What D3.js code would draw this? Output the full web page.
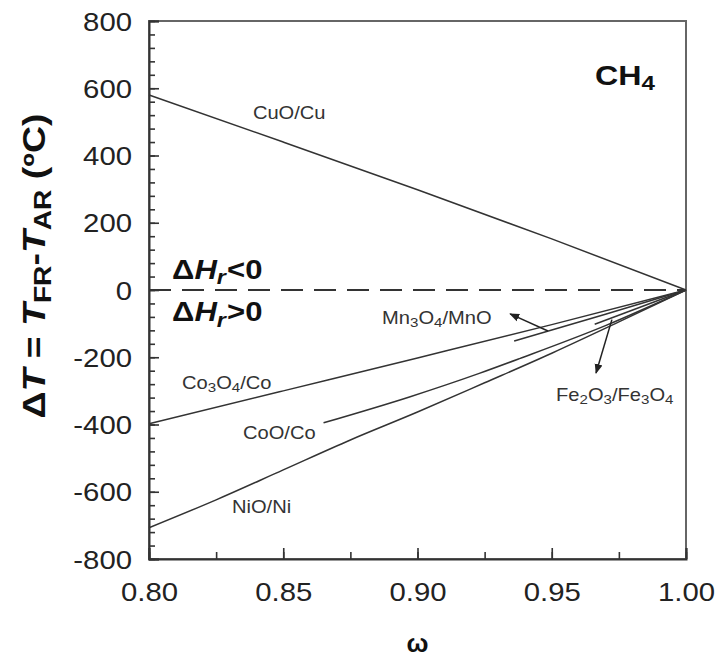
<!DOCTYPE html>
<html>
<head>
<meta charset="utf-8">
<script src="https://cdn.jsdelivr.net/npm/d3@7"></script>
<style>
  body { margin: 0; background: #fff; }
  svg { display: block; font-family: "Liberation Sans", Arial, sans-serif; }
</style>
</head>
<body>
<svg id="chart" width="719" height="658"></svg>
<script>
// x domain (omega) and y domain (delta T)
const xTicks = [0.80, 0.85, 0.90, 0.95, 1.00];
const yTicks = [-800, -600, -400, -200, 0, 200, 400, 600, 800];

// curves
const cuoW   = [0.80, 0.85, 0.90, 0.95, 1.00];
const cuoT   = [580, 440, 298, 152, 0];
const co3o4W = [0.80, 0.85, 0.90, 0.95, 1.00];
const co3o4T = [-398, -300, -202, -103, 0];
const mnW    = [0.936, 0.97, 1.00];
const mnT    = [-152, -72, 0];
const feW    = [0.966, 1.00];
const feT    = [-102, 0];
const cooW   = [0.865, 0.897, 0.923, 0.938, 0.97, 1.00];
const cooT   = [-395, -318, -248, -204, -106, 0];
const nioW   = [0.80, 0.825, 0.85, 0.875, 0.90, 0.925, 0.95, 0.975, 1.00];
const nioT   = [-707, -624, -535, -446, -363, -276, -188, -95, 0];

// label text pieces: [text, sub?]
const labels = [
    {w: 0.8387, t: 508,  parts: [["CuO/Cu"]]},
    {w: 0.8868, t: -101, parts: [["Mn"], ["3", 1], ["O"], ["4", 1], ["/MnO"]]},
    {w: 0.8123, t: -294, parts: [["Co"], ["3", 1], ["O"], ["4", 1], ["/Co"]]},
    {w: 0.8350, t: -443, parts: [["CoO/Co"]]},
    {w: 0.8309, t: -663, parts: [["NiO/Ni"]]},
    {w: 0.9516, t: -330, parts: [["Fe"], ["2", 1], ["O"], ["3", 1], ["/Fe"], ["3", 1], ["O"], ["4", 1]]}
];
const arrows = [
    {from: [0.9486, -122], to: [0.9345, -71]},
    {from: [0.9724, -88],  to: [0.9665, -247]}
];

const SX = 1.15; // text in the picture is a bit wider than tall
const W = 719, H = 658;
const margin = {left: 149, right: 33, top: 21, bottom: 99};

const svg = d3.select("#chart");
const x = d3.scaleLinear().domain([0.8, 1.0]).range([margin.left, W - margin.right]);
const y = d3.scaleLinear().domain([-800, 800]).range([H - margin.bottom, margin.top]);

// defs
svg.append("defs").append("marker")
    .attr("id", "head")
    .attr("viewBox", "0 0 10 10")
    .attr("refX", 9).attr("refY", 5)
    .attr("markerWidth", 10).attr("markerHeight", 10)
    .attr("markerUnits", "userSpaceOnUse")
    .attr("orient", "auto")
    .append("path").attr("d", "M0,1 L10,5 L0,9 Z").attr("fill", "#222");

// frame
svg.append("rect")
    .attr("x", x(0.8)).attr("y", y(800))
    .attr("width", x(1.0) - x(0.8)).attr("height", y(-800) - y(800))
    .attr("fill", "none").attr("stroke", "#666").attr("stroke-width", 2);

// y axis: minor every 40, major every 200
const yMinor = d3.axisLeft(y).tickValues(d3.range(-800, 801, 40)).tickSize(-6).tickFormat("");
const yMajor = d3.axisLeft(y).tickValues(yTicks).tickSize(-10).tickPadding(17).tickFormat(d => String(d));
svg.append("g").attr("transform", `translate(${x(0.8)},0)`).call(yMinor)
    .call(g => g.select(".domain").remove())
    .selectAll("line").attr("stroke", "#333").attr("stroke-width", 1.6);
const gy = svg.append("g").attr("transform", `translate(${x(0.8)},0)`).call(yMajor);
gy.select(".domain").attr("stroke", "#333").attr("stroke-width", 2);
gy.selectAll("line").attr("stroke", "#333").attr("stroke-width", 1.6);
gy.selectAll("text")
    .attr("font-size", 25.5).attr("fill", "#222")
    .attr("x", -17 / SX).attr("dy", "0.36em")
    .attr("transform", `scale(${SX},1)`);

// x axis: minor every 0.025, major every 0.05
const xMinor = d3.axisBottom(x).tickValues(d3.range(0, 9).map(i => 0.8 + i * 0.025)).tickSize(-7).tickFormat("");
const xMajor = d3.axisBottom(x).tickValues(xTicks).tickSize(-11).tickPadding(24).tickFormat(d3.format(".2f"));
svg.append("g").attr("transform", `translate(0,${y(-800)})`).call(xMinor)
    .call(g => g.select(".domain").remove())
    .selectAll("line").attr("stroke", "#333").attr("stroke-width", 1.6);
const gx = svg.append("g").attr("transform", `translate(0,${y(-800)})`).call(xMajor);
gx.select(".domain").attr("stroke", "#333").attr("stroke-width", 2);
gx.selectAll("line").attr("stroke", "#333").attr("stroke-width", 1.6);
gx.selectAll(".tick text")
    .attr("font-size", 25.5).attr("fill", "#222")
    .attr("transform", `scale(${SX},1)`)
    .attr("y", 24).attr("dy", "0.71em");

// zero line
svg.append("line")
    .attr("x1", x(0.8)).attr("x2", x(1.0))
    .attr("y1", y(0)).attr("y2", y(0))
    .attr("stroke", "#333").attr("stroke-width", 2)
    .attr("stroke-dasharray", "22,11");

// curves
const line = d3.line().x(d => x(d[0])).y(d => y(d[1])).curve(d3.curveMonotoneX);
const series = [
    [cuoW, cuoT], [co3o4W, co3o4T], [mnW, mnT], [feW, feT], [cooW, cooT], [nioW, nioT]
];
svg.append("g").selectAll("path")
    .data(series.map(s => d3.zip(s[0], s[1])))
    .join("path")
    .attr("d", line)
    .attr("fill", "none").attr("stroke", "#333").attr("stroke-width", 1.5);

// arrows
svg.append("g").selectAll("line")
    .data(arrows)
    .join("line")
    .attr("x1", d => x(d.from[0])).attr("y1", d => y(d.from[1]))
    .attr("x2", d => x(d.to[0])).attr("y2", d => y(d.to[1]))
    .attr("stroke", "#222").attr("stroke-width", 1.5)
    .attr("marker-end", "url(#head)");

// helper for text with subscripts
function addText(g, parts, size, opts = {}) {
    const t = g.append("text").attr("font-size", size).attr("fill", opts.fill || "#333");
    if (opts.bold) t.attr("font-weight", "bold");
    parts.forEach(p => {
        const ts = t.append("tspan").text(p[0]);
        if (p[1]) ts.attr("font-size", size * 0.75).attr("baseline-shift", "-25%");
        if (p[2]) ts.attr("font-style", "italic");
        if (p[3]) ts.attr("dx", p[3]);
    });
    return t;
}

// series labels
labels.forEach(l => {
    const g = svg.append("g").attr("transform", `translate(${x(l.w)},${y(l.t)}) scale(${SX},1)`);
    addText(g, l.parts, 17.5);
});

// CH4
addText(svg.append("g").attr("transform", `translate(${x(0.9661)},${y(610)}) scale(${SX},1)`),
    [["CH"], ["4", 1]], 28, {bold: true, fill: "#111"});

// delta H labels
addText(svg.append("g").attr("transform", `translate(${x(0.8086)},${y(33)}) scale(${SX},1)`),
    [["Δ"], ["H", 0, 1], ["r", 1, 1], ["<0", 0, 0, 1]], 27, {bold: true, fill: "#111"});
addText(svg.append("g").attr("transform", `translate(${x(0.8086)},${y(-92)}) scale(${SX},1)`),
    [["Δ"], ["H", 0, 1], ["r", 1, 1], [">0", 0, 0, 1]], 27, {bold: true, fill: "#111"});

// omega label
svg.append("text")
    .attr("x", (x(0.8) + x(1.0)) / 2).attr("y", 652)
    .attr("text-anchor", "middle")
    .attr("font-size", 26).attr("font-weight", "bold").attr("fill", "#111")
    .text("ω");

// y title, rotated and fitted to its span in the picture
const yt = svg.append("g");
const ytText = addText(yt, [["Δ"], ["T", 0, 1], [" = "], ["T", 0, 1], ["FR", 1], ["-"], ["T", 0, 1], ["AR", 1], [" (ºC)"]],
    31, {bold: true, fill: "#111"});
const len = ytText.node().getComputedTextLength();
ytText.attr("text-anchor", "middle");
yt.attr("transform", `translate(45,266) rotate(-90) scale(${305 / len},1)`);
</script>
</body>
</html>
